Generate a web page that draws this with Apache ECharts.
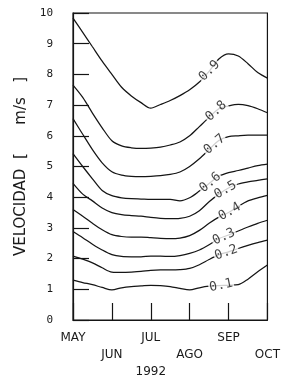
<!DOCTYPE html>
<html>
<head>
<meta charset="utf-8">
<script src="https://cdn.jsdelivr.net/npm/echarts@6/dist/echarts.min.js"></script>
<style>
html,body{margin:0;padding:0;background:#fff;}
#c{width:283px;height:380px;}
</style>
</head>
<body>
<div id="c"></div>
<script>
// ---- data ----
const months = ['MAY','JUN','JUL','AGO','SEP','OCT'];
const yearLabel = '1992';
const yAxisTitle = 'VELOCIDAD  [      m/s   ]';
const xPos = [0,0.25,0.5,0.75,1,1.25,1.5,1.75,2,2.25,2.5,2.75,3,3.25,3.5,3.75,4,4.25,4.5,4.75,5];
const q01 = [1.30,1.22,1.15,1.06,0.98,1.05,1.09,1.11,1.13,1.12,1.09,1.03,0.98,1.05,1.10,1.12,1.13,1.15,1.33,1.57,1.79];
const q02 = [2.08,1.98,1.86,1.70,1.56,1.55,1.56,1.58,1.62,1.63,1.63,1.64,1.68,1.80,1.97,2.12,2.22,2.33,2.43,2.52,2.60];
const q03 = [2.88,2.68,2.47,2.28,2.13,2.07,2.06,2.06,2.08,2.08,2.07,2.10,2.17,2.28,2.45,2.65,2.77,2.90,3.03,3.15,3.25];
const q04 = [3.60,3.38,3.15,2.94,2.78,2.72,2.70,2.70,2.68,2.66,2.65,2.67,2.75,2.92,3.15,3.35,3.50,3.70,3.88,3.98,4.06];
const q05 = [4.45,4.10,3.88,3.65,3.50,3.43,3.40,3.38,3.34,3.31,3.30,3.31,3.38,3.56,3.85,4.10,4.30,4.43,4.50,4.55,4.60];
const q06 = [5.42,5.00,4.60,4.22,4.05,3.98,3.95,3.94,3.93,3.93,3.93,3.88,3.98,4.20,4.45,4.68,4.80,4.87,4.95,5.03,5.08];
const q07 = [6.56,6.05,5.55,5.12,4.83,4.72,4.68,4.67,4.68,4.70,4.74,4.82,5.00,5.25,5.55,5.85,5.97,6.00,6.02,6.02,6.02];
const q08 = [7.65,7.25,6.74,6.26,5.84,5.67,5.61,5.59,5.60,5.63,5.70,5.80,6.00,6.30,6.60,6.88,6.97,7.02,6.98,6.88,6.75];
const q09 = [9.83,9.37,8.90,8.43,8.00,7.58,7.30,7.08,6.90,7.02,7.15,7.31,7.50,7.75,8.10,8.50,8.67,8.60,8.35,8.06,7.88];
const curveNames = ['0.1','0.2','0.3','0.4','0.5','0.6','0.7','0.8','0.9'];
const labelX = [3.81,3.94,3.88,4.03,3.92,3.53,3.64,3.68,3.51];
const labelAngle = [12,20,25,30,30,40,40,42,45];

const curves = [q01,q02,q03,q04,q05,q06,q07,q08,q09];

function interp(arr, x){
  for (let i=0;i<xPos.length-1;i++){
    if (x>=xPos[i] && x<=xPos[i+1]){
      const t=(x-xPos[i])/(xPos[i+1]-xPos[i]);
      return arr[i]+(arr[i+1]-arr[i])*t;
    }
  }
  return arr[arr.length-1];
}

const ink = '#151515';
const series = curves.map((c,k)=>({
  type:'line',
  name: curveNames[k],
  data: xPos.map((x,i)=>[x,c[i]]),
  symbol:'none',
  smooth:0.3,
  lineStyle:{color:ink,width:1.25},
  silent:true,
  z:2
}));

series.push({
  type:'scatter',
  symbolSize:0,
  silent:true,
  z:5,
  data: curves.map((c,k)=>({
    value:[labelX[k], interp(c,labelX[k])],
    label:{
      show:true,
      position:'inside',
      formatter:curveNames[k],
      rotate:labelAngle[k],
      fontFamily:'DejaVu Sans Mono',
      fontSize:13,
      color:'#111',
      backgroundColor:'#fff',
      padding:[0,1]
    }
  }))
});

const chart = echarts.init(document.getElementById('c'), null, {renderer:'canvas'});
chart.setOption({
  animation:false,
  backgroundColor:'#fff',
  grid:{left:73,right:15,top:13,bottom:58,show:true,borderColor:ink,borderWidth:1.2,backgroundColor:'transparent'},
  xAxis:{
    type:'value',min:0,max:5,interval:1,
    axisLine:{show:true,onZero:false,lineStyle:{color:ink,width:1.2}},
    axisTick:{show:true,inside:true,length:17,lineStyle:{color:ink,width:1.2}},
    splitLine:{show:false},
    axisLabel:{
      margin:9,
      fontFamily:'DejaVu Sans',fontSize:12,color:'#1a1a1a',lineHeight:17,
      formatter:function(v){
        const i=Math.round(v);
        let s = (i%2) ? '\n'+months[i] : months[i];
        if (i===2) s += '\n\n'+yearLabel;
        return s;
      }
    }
  },
  yAxis:{
    type:'value',min:0,max:10,interval:1,
    name:yAxisTitle,nameLocation:'middle',nameGap:44,
    nameTextStyle:{fontFamily:'DejaVu Sans',fontSize:15,color:'#1a1a1a'},
    axisLine:{show:true,lineStyle:{color:ink,width:1.2}},
    axisTick:{show:true,inside:true,length:16,lineStyle:{color:ink,width:1.2}},
    splitLine:{show:false},
    axisLabel:{margin:20,fontFamily:'DejaVu Sans Mono',fontSize:11,color:'#1a1a1a'}
  },
  series:series
});
</script>
</body>
</html>
